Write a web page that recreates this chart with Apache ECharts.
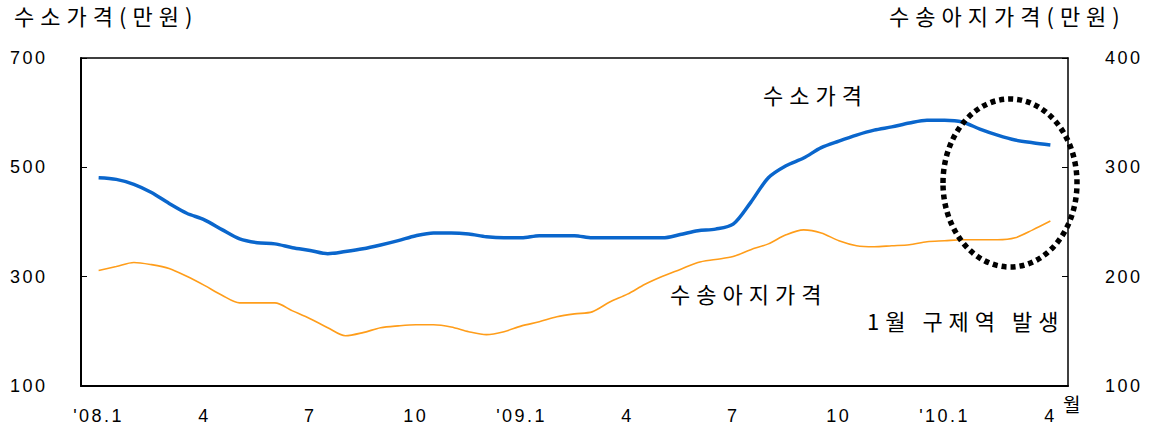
<!DOCTYPE html>
<html>
<head>
<meta charset="utf-8">
<script src="https://cdn.jsdelivr.net/npm/echarts@6/dist/echarts.min.js"></script>
<style>
html,body{margin:0;padding:0;background:#fff;}
#c{width:1152px;height:425px;}
#c text[style*="Noto"]{letter-spacing:6px;}
#c text[style*="Liberation"]{letter-spacing:2.5px;}
</style>
</head>
<body>
<div id="c"></div>
<script>
// Months (category axis, 2008.1 - 2010.4)
const months = ["'08.1","2","3","4","5","6","7","8","9","10","11","12",
                "'09.1","2","3","4","5","6","7","8","9","10","11","12",
                "'10.1","2","3","4"];
// Semi-monthly observations, position in months from '08.1 start
const periods = [];
for (let i = 0; i < 55; i++) periods.push(0.5 + i * 0.5);
// 수소가격 (만원), semi-monthly
const bullPrice = [481,478,469,454,434,416,404,386,369,362,360,353,348,342,346,351,358,366,375,380,
                   380,378,373,371,371,375,375,375,371,371,371,371,371,377,384,387,396,436,481,503,
                   517,536,548,559,568,574,581,586,586,583,570,559,550,545,541];
// 수송아지가격 (만원), semi-monthly
const calfPrice = [205.7,209.3,213,211,207.5,200.3,192,183,176,176,176,168.7,161.5,153.3,146,148.8,153.3,155,156,156,
                   154,149.7,147,149.7,155,158.7,163.3,166,167.8,176.8,184,193,200.3,206.6,213,215.7,218.4,224.7,230,238.3,
                   242.8,240,232.8,228.3,227.4,228.3,229.2,232,232.8,233.7,233.7,233.7,235.5,242.8,250.9];
const leftTicks = [100, 700, 200];
const rightTicks = [100, 400, 100];

const chart = echarts.init(document.getElementById('c'), null, {renderer:'svg'});
const num = {fontFamily:'Liberation Sans', fontSize:18, color:'#000'};
const krFont = (s) => s + 'px "Noto Sans CJK KR"';
chart.setOption({
  animation:false,
  grid:{left:81, right:84, top:58, bottom:36},
  xAxis:[{
    type:'category', data:months, boundaryGap:true,
    axisLine:{lineStyle:{color:'#000', width:2}},
    axisTick:{inside:true, length:6, interval:0, lineStyle:{color:'#000', width:1}},
    axisLabel:{interval:2, margin:21, ...num}
  },{
    type:'value', min:0, max:28, position:'top',
    axisLine:{show:true, onZero:false, lineStyle:{color:'#000', width:1.5}},
    axisTick:{show:false}, axisLabel:{show:false}, splitLine:{show:false}
  }],
  yAxis:[{
    type:'value', min:leftTicks[0], max:leftTicks[1], interval:leftTicks[2],
    axisLine:{show:true, lineStyle:{color:'#000', width:2}},
    axisTick:{show:true, inside:true, length:6, lineStyle:{color:'#000'}},
    axisLabel:{margin:71, align:'left', ...num},
    splitLine:{show:false}
  },{
    type:'value', min:rightTicks[0], max:rightTicks[1], interval:rightTicks[2],
    position:'right',
    axisLine:{show:true, lineStyle:{color:'#000', width:1.5}},
    axisTick:{show:true, inside:true, length:6, lineStyle:{color:'#000'}},
    axisLabel:{margin:37, ...num},
    splitLine:{show:false}
  }],
  series:[{
    name:'수소가격', type:'line', xAxisIndex:1, yAxisIndex:0,
    data: periods.map((p,i)=>[p, bullPrice[i]]),
    showSymbol:false, smooth:0.3,
    lineStyle:{color:'#0a66cc', width:3.5}, z:3
  },{
    name:'수송아지가격', type:'line', xAxisIndex:1, yAxisIndex:1,
    data: periods.map((p,i)=>[p, calfPrice[i]]),
    showSymbol:false, smooth:0.3,
    lineStyle:{color:'#ff9d1a', width:1.6}, z:2
  }],
  graphic:[
    {type:'text', left:14, top:4, style:{text:'수소가격(만원)', font:krFont(22), fill:'#000'}},
    {type:'text', left:889, top:4, style:{text:'수송아지가격(만원)', font:krFont(22), fill:'#000'}},
    {type:'text', left:763, top:83, style:{text:'수소가격', font:krFont(22), fill:'#000'}},
    {type:'text', left:670, top:282, style:{text:'수송아지가격', font:krFont(22), fill:'#000'}},
    {type:'text', left:867, top:309, style:{text:'1월 구제역 발생', font:krFont(22), fill:'#000'}},
    {type:'text', left:1063, top:394, style:{text:'월', font:krFont(19), fill:'#000'}},
    {type:'ellipse', shape:{cx:1010, cy:183, rx:67, ry:84},
     style:{fill:'none', stroke:'#000', lineWidth:5.5, lineDash:[5,4]}, z:10}
  ]
});
</script>
</body>
</html>
